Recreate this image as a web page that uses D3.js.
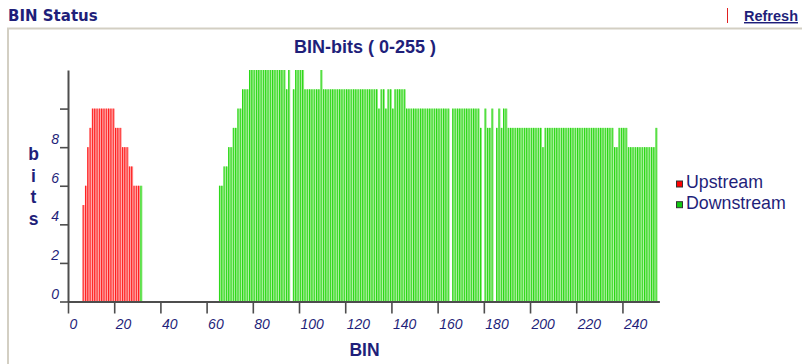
<!DOCTYPE html>
<html>
<head>
<meta charset="utf-8">
<script src="https://cdn.jsdelivr.net/npm/d3@7/dist/d3.min.js"></script>
<style>
  html, body { margin: 0; padding: 0; background: #ffffff; }
  svg { display: block; }
</style>
</head>
<body>
<svg id="chart" width="802" height="364"></svg>
<script>
// Bit loading per DMT tone (bins 0-255), 16 bins per row
const upstreamBits = [
  0,0,0,0,0,0,5,6,8,9,10,10,10,10,10,10,
  10,10,10,10,9,9,9,8,8,8,7,7,6,6,6,0,
  0,0,0,0,0,0,0,0,0,0,0,0,0,0,0,0,
  0,0,0,0,0,0,0,0,0,0,0,0,0,0,0,0,
  0,0,0,0,0,0,0,0,0,0,0,0,0,0,0,0,
  0,0,0,0,0,0,0,0,0,0,0,0,0,0,0,0,
  0,0,0,0,0,0,0,0,0,0,0,0,0,0,0,0,
  0,0,0,0,0,0,0,0,0,0,0,0,0,0,0,0,
  0,0,0,0,0,0,0,0,0,0,0,0,0,0,0,0,
  0,0,0,0,0,0,0,0,0,0,0,0,0,0,0,0,
  0,0,0,0,0,0,0,0,0,0,0,0,0,0,0,0,
  0,0,0,0,0,0,0,0,0,0,0,0,0,0,0,0,
  0,0,0,0,0,0,0,0,0,0,0,0,0,0,0,0,
  0,0,0,0,0,0,0,0,0,0,0,0,0,0,0,0,
  0,0,0,0,0,0,0,0,0,0,0,0,0,0,0,0,
  0,0,0,0,0,0,0,0,0,0,0,0,0,0,0,0
];

const downstreamBits = [
  0,0,0,0,0,0,0,0,0,0,0,0,0,0,0,0,
  0,0,0,0,0,0,0,0,0,0,0,0,0,0,0,6,
  0,0,0,0,0,0,0,0,0,0,0,0,0,0,0,0,
  0,0,0,0,0,0,0,0,0,0,0,0,0,0,0,0,
  0,6,6,7,7,8,8,9,9,10,10,11,11,11,12,12,
  12,12,12,12,12,12,12,12,12,12,12,12,12,12,11,12,
  0,11,12,12,12,12,11,11,11,11,11,11,11,12,11,11,
  11,11,11,11,11,11,11,11,11,11,11,11,11,11,11,11,
  11,11,11,11,11,11,10,11,11,10,11,11,10,11,11,11,
  11,11,10,10,10,10,10,10,10,10,10,10,10,10,10,10,
  10,10,10,10,10,0,10,10,10,10,10,10,10,10,10,10,
  10,10,9,0,10,9,9,10,0,9,10,9,10,10,9,9,
  9,9,9,9,9,9,9,9,9,9,9,9,9,8,9,9,
  9,9,9,9,9,9,9,9,9,9,9,9,9,9,9,9,
  9,9,9,9,9,9,9,9,9,9,9,9,8,8,9,9,
  9,9,8,8,8,8,8,8,8,8,8,8,8,8,9,0
];

const binCount = 256;
const maxBits = 12;
const xTickValues = [0, 20, 40, 60, 80, 100, 120, 140, 160, 180, 200, 220, 240];
const yTickValues = [0, 2, 4, 6, 8, 10];
const yTickLabels = ["0", "2", "4", "6", "8", ""];
const seriesNames = ["Upstream", "Downstream"];

const navy = "#1f1f7a";
const axisGrey = "#4d4d4d";
const palette = {
  Upstream:   { fill: "#ff8c8c", edge: "#ff1414", key: "#ff0000" },
  Downstream: { fill: "#8fe87d", edge: "#1fd60c", key: "#11c811" }
};

const svg = d3.select("#chart");

// ---- page header ----
svg.append("text")
  .attr("x", 8).attr("y", 21)
  .attr("font-family", "DejaVu Sans, Verdana, sans-serif")
  .attr("font-weight", "bold").attr("font-size", 15)
  .attr("fill", navy)
  .text("BIN Status");

svg.append("line")
  .attr("x1", 727.5).attr("x2", 727.5).attr("y1", 8).attr("y2", 23)
  .attr("stroke", "#e02020").attr("stroke-width", 1);

svg.append("text")
  .attr("x", 744).attr("y", 21)
  .attr("font-family", "Liberation Sans, Arial, sans-serif")
  .attr("font-weight", "bold").attr("font-size", 14.5)
  .attr("text-decoration", "underline")
  .attr("fill", navy)
  .text("Refresh");

// panel frame
svg.append("path")
  .attr("d", "M8,364 V28.5 H802")
  .attr("fill", "none").attr("stroke", "#d3cfc3").attr("stroke-width", 2);

// ---- scales ----
const x = d3.scaleLinear().domain([0, binCount]).range([68, 659.4]);
const y = d3.scaleLinear().domain([0, maxBits]).range([301.5, 70]);
const step = x(1) - x(0);

// ---- bars ----
function drawSeries(name, values) {
  const col = palette[name];
  const data = values.map((v, i) => ({ bin: i, bits: v })).filter(d => d.bits > 0);
  const g = svg.append("g").attr("class", "series-" + name);
  g.selectAll("rect.fill").data(data).enter().append("rect")
    .attr("class", "fill")
    .attr("x", d => x(d.bin) + 0.8)
    .attr("width", step - 0.35)
    .attr("y", d => y(d.bits))
    .attr("height", d => y(0) - y(d.bits))
    .attr("fill", col.fill);
  g.selectAll("rect.edge").data(data).enter().append("rect")
    .attr("class", "edge")
    .attr("x", d => x(d.bin) + 0.8)
    .attr("width", 0.9)
    .attr("y", d => y(d.bits))
    .attr("height", d => y(0) - y(d.bits))
    .attr("fill", col.edge);
}
drawSeries("Upstream", upstreamBits);
drawSeries("Downstream", downstreamBits);

// ---- axes ----
const labelFont = "Liberation Sans, Arial, sans-serif";

const yAxis = d3.axisLeft(y)
  .tickValues(yTickValues)
  .tickFormat((d, i) => yTickLabels[i])
  .tickSize(8).tickSizeOuter(0).tickPadding(1);

const yg = svg.append("g").attr("transform", "translate(68,0)").call(yAxis);
yg.select(".domain").attr("stroke", axisGrey).attr("stroke-width", 2);
yg.selectAll(".tick line").attr("stroke", axisGrey).attr("stroke-width", 1.6);
yg.selectAll(".tick text")
  .attr("font-family", labelFont).attr("font-style", "italic")
  .attr("font-size", 14).attr("fill", navy)
  .attr("dy", "-0.25em");

const xAxis = d3.axisBottom(x)
  .tickValues(xTickValues)
  .tickSize(12).tickSizeOuter(0);

const xg = svg.append("g").attr("transform", "translate(0,301.5)").call(xAxis);
xg.select(".domain").attr("stroke", axisGrey).attr("stroke-width", 2);
xg.selectAll(".tick line").attr("stroke", axisGrey).attr("stroke-width", 1.6);
xg.selectAll(".tick text")
  .attr("font-family", labelFont).attr("font-style", "italic")
  .attr("font-size", 14).attr("fill", navy)
  .attr("text-anchor", "start")
  .attr("x", 1).attr("y", 27.5).attr("dy", 0);

// ---- titles ----
svg.append("text")
  .attr("x", 365).attr("y", 52.5)
  .attr("text-anchor", "middle")
  .attr("font-family", labelFont).attr("font-weight", "bold").attr("font-size", 18)
  .attr("fill", navy)
  .text("BIN-bits ( 0-255 )");

svg.append("text")
  .attr("x", 364.5).attr("y", 356)
  .attr("text-anchor", "middle")
  .attr("font-family", labelFont).attr("font-weight", "bold").attr("font-size", 17.5)
  .attr("fill", navy)
  .text("BIN");

// vertical axis caption, one letter per line
const yCaption = svg.append("text")
  .attr("text-anchor", "middle")
  .attr("font-family", labelFont).attr("font-weight", "bold").attr("font-size", 17.5)
  .attr("fill", navy);
["b", "i", "t", "s"].forEach((ch, i) => {
  yCaption.append("tspan").attr("x", 33.5).attr("y", 160 + i * 21.7).text(ch);
});

// ---- legend ----
const legend = svg.append("g").attr("transform", "translate(676,0)");
seriesNames.forEach((name, i) => {
  const baseY = 188.3 + i * 20.7;
  legend.append("rect")
    .attr("x", 0.5).attr("y", baseY - 7.3)
    .attr("width", 6).attr("height", 6)
    .attr("fill", palette[name].key)
    .attr("stroke", "#333333").attr("stroke-width", 1);
  legend.append("text")
    .attr("x", 10).attr("y", baseY)
    .attr("font-family", labelFont).attr("font-size", 17.8)
    .attr("fill", navy)
    .text(name);
});
</script>
</body>
</html>
